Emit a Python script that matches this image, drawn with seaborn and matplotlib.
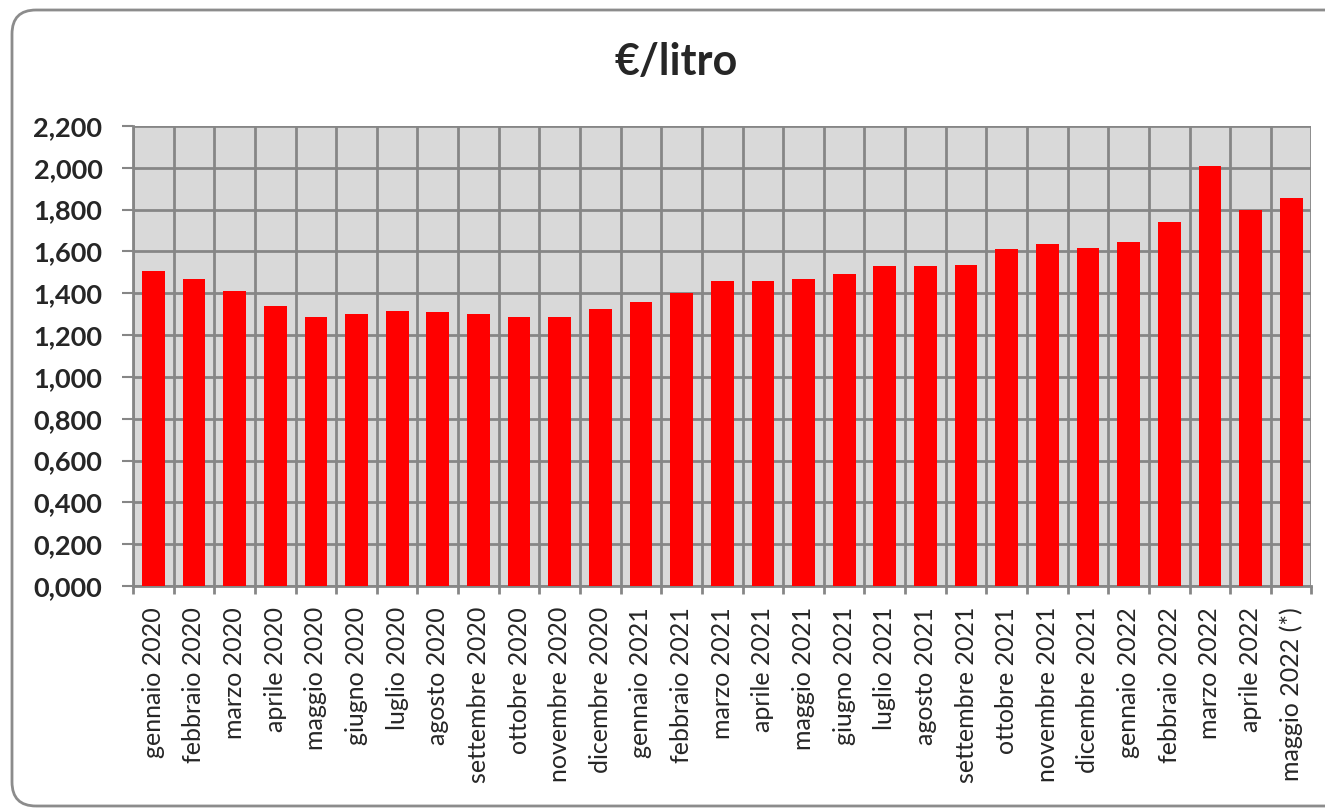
import numpy as np
import pandas as pd
import matplotlib
matplotlib.use("Agg")
import matplotlib.pyplot as plt
from matplotlib.patches import FancyBboxPatch
from matplotlib.ticker import FuncFormatter, MultipleLocator
import seaborn as sns

# --- data ---
months = [
    "gennaio 2020", "febbraio 2020", "marzo 2020", "aprile 2020", "maggio 2020",
    "giugno 2020", "luglio 2020", "agosto 2020", "settembre 2020", "ottobre 2020",
    "novembre 2020", "dicembre 2020", "gennaio 2021", "febbraio 2021", "marzo 2021",
    "aprile 2021", "maggio 2021", "giugno 2021", "luglio 2021", "agosto 2021",
    "settembre 2021", "ottobre 2021", "novembre 2021", "dicembre 2021",
    "gennaio 2022", "febbraio 2022", "marzo 2022", "aprile 2022", "maggio 2022 (*)",
]
prices = [
    1.505, 1.468, 1.411, 1.339, 1.286,
    1.301, 1.315, 1.310, 1.301, 1.286,
    1.286, 1.325, 1.358, 1.401, 1.459,
    1.459, 1.468, 1.492, 1.530, 1.530,
    1.535, 1.612, 1.636, 1.617,
    1.645, 1.741, 2.009, 1.798, 1.856,
]
title = "€/litro"

df = pd.DataFrame({"mese": months, "prezzo": prices})

sns.set_theme(style="white")
plt.rcParams["font.family"] = ["Lato", "DejaVu Sans"]

GRID = "#868686"

fig = plt.figure(figsize=(13.25, 8.08), dpi=100)
ax = fig.add_axes([0.1004, 0.2748, 0.8894, 0.5693])

# rounded outer frame like the spreadsheet chart area (pixel coords)
frame = FancyBboxPatch((12, 2), 1340, 796, boxstyle="round,pad=0,rounding_size=24",
                       transform=None, facecolor="none", edgecolor="#8c8c8c",
                       linewidth=2, zorder=0)
fig.patches.append(frame)

ax.set_facecolor("#d9d9d9")
sns.barplot(data=df, x="mese", y="prezzo", color="#ff0000", saturation=1,
            width=0.56, linewidth=0, ax=ax, zorder=3)

n = len(months)
ax.set_xlim(-0.5, n - 0.5)
ax.set_ylim(0, 2.2)
ax.yaxis.set_major_locator(MultipleLocator(0.2))
ax.yaxis.set_major_formatter(FuncFormatter(lambda v, p: f"{v:.3f}".replace(".", ",")))

# horizontal grid + vertical separators between categories
ax.grid(axis="y", color=GRID, linewidth=2, zorder=1)
for b in np.arange(-0.5, n, 1.0):
    ax.axvline(b, color=GRID, linewidth=2, zorder=1)
ax.set_axisbelow(True)

ax.set_xticks(np.arange(n))
ax.set_xticklabels(months, rotation=90, fontsize=18)
ax.tick_params(axis="x", length=0, pad=15)
ax.tick_params(axis="y", length=8, width=1.5, color=GRID, labelsize=19.5, pad=14)
for lab in ax.get_yticklabels():
    lab.set_fontweight("bold")

# category boundary tick marks below the axis
ax.set_xticks(np.arange(-0.5, n, 1.0), minor=True)
ax.tick_params(axis="x", which="minor", length=6, width=2, color=GRID)
ax.tick_params(axis="both", which="both", direction="out")
ax.xaxis.set_ticks_position("bottom")
ax.yaxis.set_ticks_position("left")

for s in ["top", "right"]:
    ax.spines[s].set_visible(False)
for s in ["left", "bottom"]:
    ax.spines[s].set_color(GRID)
    ax.spines[s].set_linewidth(2)

ax.set_xlabel("")
ax.set_ylabel("")
fig.text(0.51, 0.907, title, ha="center", va="baseline", fontsize=31, fontweight="bold")

fig.savefig("out.png", dpi=100)
